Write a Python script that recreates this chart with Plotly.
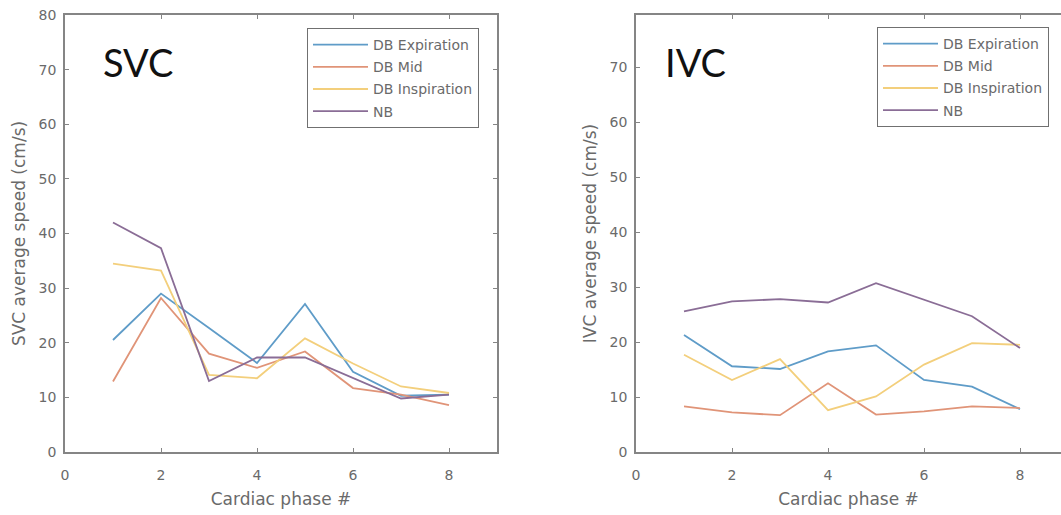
import plotly.graph_objects as go

phase = [1, 2, 3, 4, 5, 6, 7, 8]
series_names = ["DB Expiration", "DB Mid", "DB Inspiration", "NB"]

svc_expiration = [20.5, 29.0, 22.7, 16.3, 27.1, 14.7, 10.3, 10.5]
svc_mid = [12.9, 28.2, 18.0, 15.4, 18.4, 11.7, 10.5, 8.6]
svc_inspiration = [34.5, 33.2, 14.1, 13.5, 20.8, 16.2, 12.0, 10.8]
svc_nb = [42.0, 37.3, 13.0, 17.3, 17.3, 13.5, 9.8, 10.5]

ivc_expiration = [21.3, 15.6, 15.1, 18.3, 19.4, 13.1, 11.9, 7.8]
ivc_mid = [8.3, 7.2, 6.7, 12.5, 6.8, 7.4, 8.3, 8.0]
ivc_inspiration = [17.7, 13.1, 16.9, 7.6, 10.1, 15.9, 19.8, 19.5]
ivc_nb = [25.6, 27.4, 27.8, 27.2, 30.7, 27.7, 24.7, 18.9]

x_ticks = [0, 2, 4, 6, 8]
svc_y_ticks = [0, 10, 20, 30, 40, 50, 60, 70, 80]
ivc_y_ticks = [0, 10, 20, 30, 40, 50, 60, 70]

colors = ["#5f9cc8", "#e09478", "#f3cf7c", "#8a6d96"]

W, H = 1061, 515
ML, MR, MT, MB = 65, 0, 15, 63
pw = W - ML - MR
ph = H - MT - MB

def px_x(p):
    return (p - ML) / pw

def px_y(p):
    return (H - MB - p) / ph

fig = go.Figure()

svc = [svc_expiration, svc_mid, svc_inspiration, svc_nb]
ivc = [ivc_expiration, ivc_mid, ivc_inspiration, ivc_nb]

for i, (name, ys) in enumerate(zip(series_names, svc)):
    fig.add_trace(go.Scatter(x=phase, y=ys, mode="lines", name=name,
                             line=dict(color=colors[i], width=1.8),
                             xaxis="x", yaxis="y", legend="legend",
                             legendgroup="s" + str(i)))
for i, (name, ys) in enumerate(zip(series_names, ivc)):
    fig.add_trace(go.Scatter(x=phase, y=ys, mode="lines", name=name,
                             line=dict(color=colors[i], width=1.8),
                             xaxis="x2", yaxis="y2", legend="legend2",
                             legendgroup="i" + str(i)))

FONT = "DejaVu Sans, sans-serif"
axis_color = "#858585"
tick_font = dict(family=FONT, size=14, color="#6a6a6a")
title_font = dict(family=FONT, size=17, color="#6a6a6a")
legend_font = dict(family=FONT, size=14, color="#6a6a6a")

common_x = dict(showgrid=False, zeroline=False, showline=True, linecolor=axis_color,
                linewidth=1.5, ticks="inside", ticklen=4, tickcolor=axis_color,
                tickfont=tick_font, tickvals=x_ticks, ticklabelstandoff=9,
                title=dict(text="Cardiac phase #", font=title_font, standoff=12))
common_y = dict(showgrid=False, zeroline=False, showline=True, linecolor=axis_color,
                linewidth=1.5, ticks="inside", ticklen=4, tickcolor=axis_color,
                tickfont=tick_font, ticklabelstandoff=4)

left_right_px = 497
right_left_px = 636
per_unit = (left_right_px - ML) / 9.0
right_max = (W - right_left_px) / per_unit

fig.update_layout(
    width=W, height=H,
    margin=dict(l=ML, r=MR, t=MT, b=MB),
    paper_bgcolor="white", plot_bgcolor="white",
    xaxis=dict(common_x, domain=[0, px_x(left_right_px)], range=[0, 9], mirror="ticks", anchor="y"),
    yaxis=dict(common_y, range=[0, 80], tickvals=svc_y_ticks, mirror="ticks", anchor="x",
               title=dict(text="SVC average speed (cm/s)", font=title_font, standoff=9)),
    xaxis2=dict(common_x, domain=[px_x(right_left_px), 1.0], range=[0, right_max], mirror="ticks", anchor="y2"),
    yaxis2=dict(common_y, range=[0, 79.5], tickvals=ivc_y_ticks, anchor="x2",
                title=dict(text="IVC average speed (cm/s)", font=title_font, standoff=9)),
    legend=dict(x=px_x(307), y=px_y(28), xanchor="left", yanchor="top",
                bordercolor="#707070", borderwidth=1, bgcolor="white",
                font=legend_font, tracegroupgap=1, itemwidth=55),
    legend2=dict(x=px_x(877), y=px_y(27), xanchor="left", yanchor="top",
                 bordercolor="#707070", borderwidth=1, bgcolor="white",
                 font=legend_font, tracegroupgap=1, itemwidth=55),
    showlegend=True,
    annotations=[
        dict(text="SVC", xref="paper", yref="paper", x=px_x(101), y=px_y(62),
             xanchor="left", yanchor="middle", showarrow=False,
             font=dict(family="Lato, Open Sans, sans-serif", size=38, color="#111111")),
        dict(text="IVC", xref="paper", yref="paper", x=px_x(663), y=px_y(62),
             xanchor="left", yanchor="middle", showarrow=False,
             font=dict(family="Lato, Open Sans, sans-serif", size=38, color="#111111")),
    ],
)

fig.write_html("out.html", config={"displayModeBar": False},
               post_script="document.body.style.margin='0';")
